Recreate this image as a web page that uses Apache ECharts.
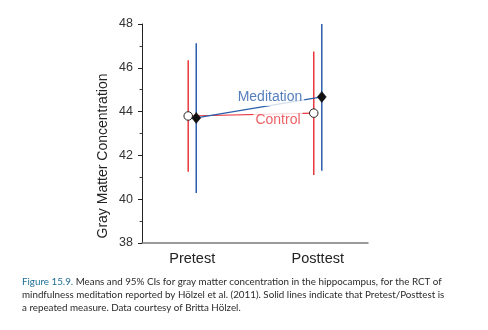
<!DOCTYPE html>
<html>
<head>
<meta charset="utf-8">
<script src="https://cdn.jsdelivr.net/npm/echarts@6/dist/echarts.min.js"></script>
<style>
  html, body { margin: 0; padding: 0; background: #fff; }
  #chart { width: 488px; height: 330px; }
</style>
</head>
<body>
<div id="chart"></div>
<script>
// Study phases and where they sit on the x scale
const categories = ['Pretest', 'Posttest'];
const categoryPos = [1, 2];

// Gray matter concentration: means and 95% CI bounds per group
const controlMean = [43.80, 43.93];
const controlLow = [41.25, 41.10];
const controlHigh = [46.34, 46.74];

const meditationMean = [43.71, 44.67];
const meditationLow = [40.28, 41.30];
const meditationHigh = [47.12, 48.00];

// Y axis range and step
const yMin = 38;
const yMax = 48;
const yStep = 2;

// Group name labels placed along their lines
const groupNames = ['Meditation', 'Control'];
const groupLabelAt = [[1.619, 44.67], [1.683, 43.60]];

// Caption under the chart
const captionTag = 'Figure 15.9.';
const captionLines = [
  ' Means and 95% CIs for gray matter concentration in the hippocampus, for the RCT of',
  'mindfulness meditation reported by Hölzel et al. (2011). Solid lines indicate that Pretest/Posttest is',
  'a repeated measure. Data courtesy of Britta Hölzel.'
];

const RED = '#e8383d';
const BLUE = '#2a5eab';
const offset = 0.032; // side-by-side shift of the two groups

function shifted(d) { return categoryPos.map(p => p + d); }

function ciData(xs, lo, hi) {
  return xs.map((x, i) => [x, lo[i], hi[i]]);
}

function errorBar(color) {
  return function (params, api) {
    const x = api.value(0);
    const p1 = api.coord([x, api.value(1)]);
    const p2 = api.coord([x, api.value(2)]);
    return {
      type: 'line',
      shape: { x1: p1[0], y1: p1[1], x2: p2[0], y2: p2[1] },
      style: { stroke: color, lineWidth: 1.5 }
    };
  };
}

const ctrlX = shifted(-offset);
const medX = shifted(offset);

const chart = echarts.init(document.getElementById('chart'), null, { renderer: 'canvas' });

const labelColors = [BLUE, RED];
const captionFont = '9.8px Lato';

chart.setOption({
  animation: false,
  backgroundColor: '#fff',
  grid: { left: 142, right: 120, top: 24, bottom: 87, containLabel: false },
  xAxis: {
    type: 'value',
    min: 0.6,
    max: 2.4,
    splitLine: { show: false },
    axisTick: { show: false },
    axisLine: { show: true, lineStyle: { color: '#7a7a7a', width: 1.5 } },
    axisLabel: {
      customValues: categoryPos,
      formatter: v => categories[categoryPos.indexOf(v)] || '',
      fontFamily: 'Liberation Sans',
      fontSize: 14.5,
      color: '#222',
      margin: 8
    }
  },
  yAxis: {
    type: 'value',
    min: yMin,
    max: yMax,
    interval: yStep,
    splitLine: { show: false },
    axisLine: { show: true, lineStyle: { color: '#222', width: 1 } },
    axisTick: { show: true, length: 4, lineStyle: { color: '#222' } },
    minorTick: { show: true, splitNumber: 2, length: 2.5, lineStyle: { color: '#444' } },
    axisLabel: {
      fontFamily: 'Liberation Sans',
      fontSize: 12.5,
      color: '#333',
      margin: 9
    }
  },
  graphic: [
    {
      type: 'text',
      x: 103,
      y: 156,
      rotation: Math.PI / 2,
      style: {
        text: 'Gray Matter Concentration',
        font: '14px "Liberation Sans"',
        fill: '#222',
        textAlign: 'center',
        textVerticalAlign: 'middle'
      }
    },
    {
      type: 'text',
      left: 22,
      top: 277,
      style: {
        text: '{tag|' + captionTag + '}{body|' + captionLines[0] + '}',
        rich: {
          tag: { font: captionFont, fill: '#1d6d96' },
          body: { font: captionFont, fill: '#2b2b2b' }
        }
      }
    },
    {
      type: 'text',
      left: 22,
      top: 290,
      style: { text: captionLines[1], font: captionFont, fill: '#2b2b2b' }
    },
    {
      type: 'text',
      left: 22,
      top: 302.5,
      style: { text: captionLines[2], font: captionFont, fill: '#2b2b2b' }
    }
  ],
  series: [
    {
      name: 'Control CI',
      type: 'custom',
      z: 2,
      renderItem: errorBar(RED),
      encode: { x: 0, y: [1, 2] },
      data: ciData(ctrlX, controlLow, controlHigh)
    },
    {
      name: 'Meditation CI',
      type: 'custom',
      z: 2,
      renderItem: errorBar(BLUE),
      encode: { x: 0, y: [1, 2] },
      data: ciData(medX, meditationLow, meditationHigh)
    },
    {
      name: 'Control',
      type: 'line',
      z: 3,
      data: ctrlX.map((x, i) => [x, controlMean[i]]),
      lineStyle: { color: RED, width: 1.2 },
      symbol: 'circle',
      symbolSize: 8.5,
      showAllSymbol: true,
      itemStyle: { color: '#fff', borderColor: '#222', borderWidth: 1 }
    },
    {
      name: 'Meditation',
      type: 'line',
      z: 3,
      data: medX.map((x, i) => [x, meditationMean[i]]),
      lineStyle: { color: BLUE, width: 1.2 },
      symbol: 'diamond',
      symbolSize: [9, 11],
      showAllSymbol: true,
      itemStyle: { color: '#111', borderColor: '#111', borderWidth: 0.5 }
    },
    {
      name: 'Group names',
      type: 'scatter',
      z: 5,
      silent: true,
      symbolSize: 0,
      data: groupNames.map((n, i) => ({
        name: n,
        value: groupLabelAt[i],
        label: { color: labelColors[i] }
      })),
      label: {
        show: true,
        position: 'inside',
        formatter: '{b}',
        fontFamily: 'Liberation Sans',
        fontSize: 14,
        backgroundColor: '#fff',
        padding: [2, 2]
      }
    }
  ]
});
</script>
</body>
</html>
